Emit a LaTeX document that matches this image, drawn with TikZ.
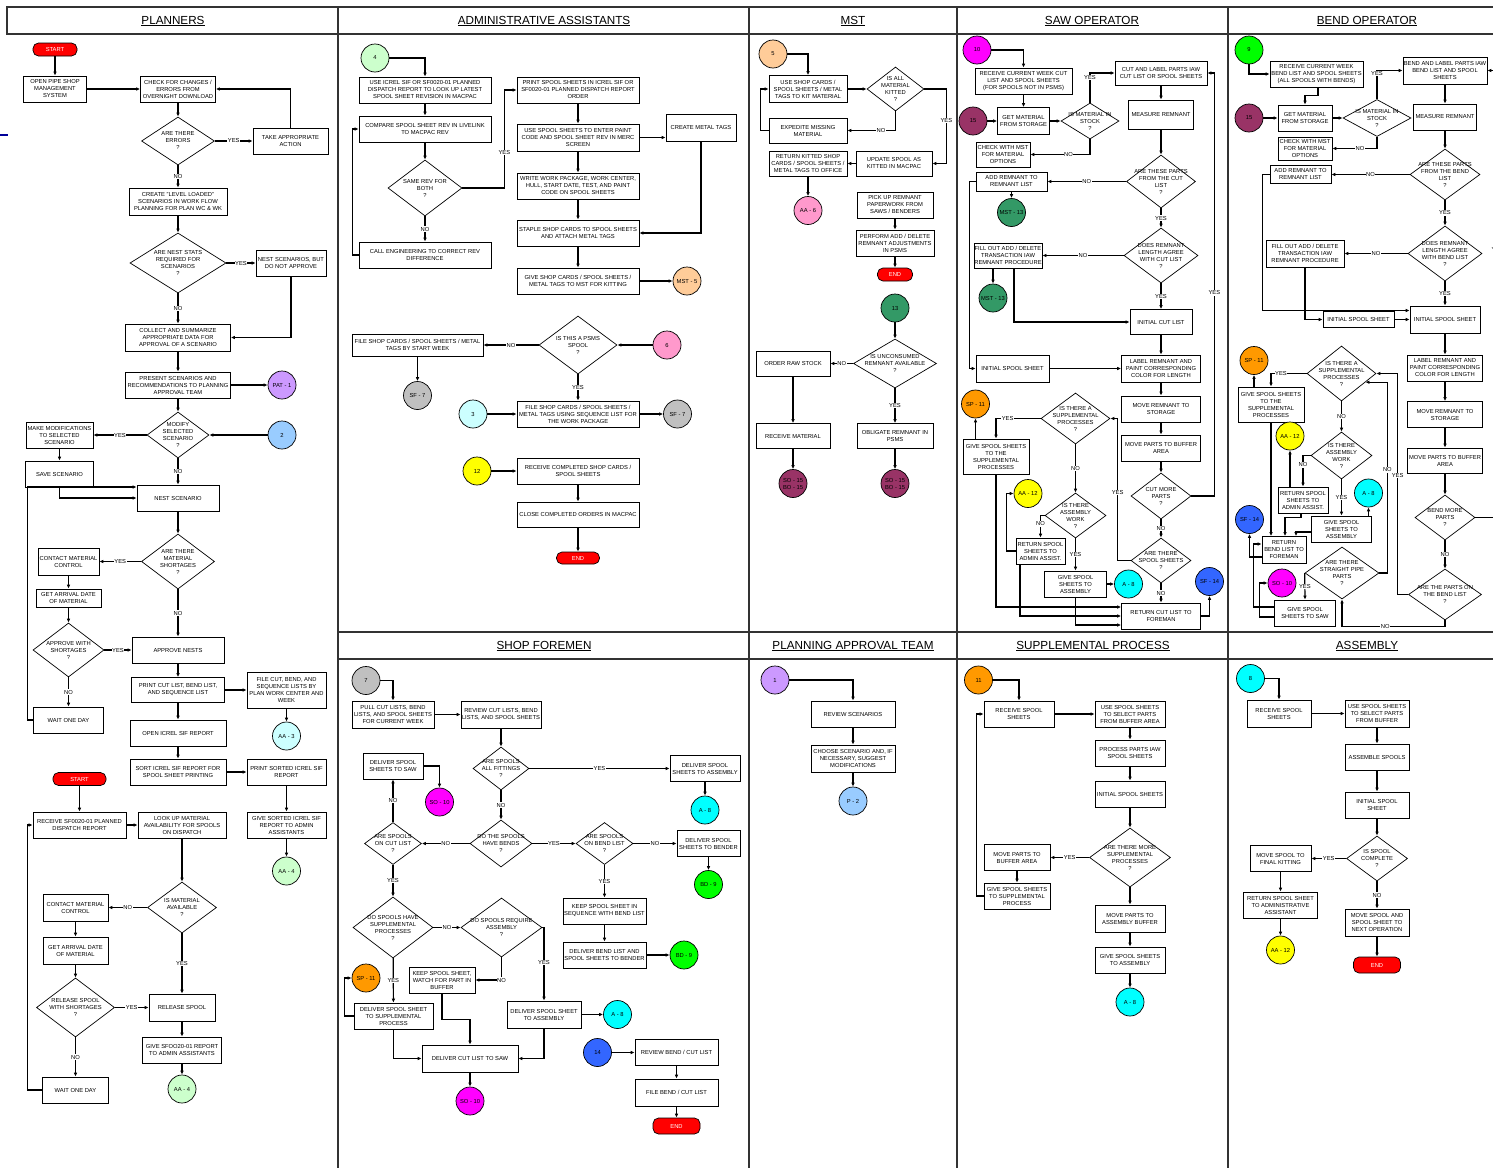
\documentclass[tikz,border=0pt]{standalone}
\usepackage{fontspec}
\setmainfont{Liberation Sans}
\usetikzlibrary{shapes.geometric,arrows.meta,shadows}

\definecolor{tred}{RGB}{255,0,0}
\definecolor{cpat}{RGB}{204,153,255}
\definecolor{cplan}{RGB}{153,204,255}
\definecolor{caa3}{RGB}{204,255,255}
\definecolor{caa4}{RGB}{204,255,204}
\definecolor{cmst}{RGB}{255,204,153}
\definecolor{caa6}{RGB}{255,153,204}
\definecolor{csf}{RGB}{192,192,192}
\definecolor{casm}{RGB}{0,255,255}
\definecolor{cbd}{RGB}{0,255,0}
\definecolor{cso}{RGB}{255,0,255}
\definecolor{csp}{RGB}{255,153,0}
\definecolor{caa12}{RGB}{255,255,0}
\definecolor{cm13}{RGB}{51,153,102}
\definecolor{csf14}{RGB}{51,102,255}
\definecolor{c15}{RGB}{153,51,102}

\newcommand\flowfont{\fontsize{5.8}{7}\selectfont}
\newcommand\lanefont{\fontsize{11.7}{14}\selectfont}

\tikzset{
  lane/.style={draw=black!80, line width=1.3pt},
  proc/.style={draw, fill=white, line width=0.7pt, inner sep=0.4pt, align=center, font=\flowfont,
    drop shadow={shadow xshift=0.9pt, shadow yshift=-0.9pt, fill=black!45, opacity=1}},
  bx/.style 2 args={proc, minimum width=#1pt, minimum height=#2pt},
  dtext/.style={align=center, font=\flowfont, inner sep=0pt},
  dec/.style n args={3}{diamond, draw, fill=white, line width=0.7pt, inner sep=0pt,
    minimum width=#1pt, minimum height=#2pt, label={[dtext]center:#3}},
  term/.style 2 args={draw, fill=tred, line width=0.7pt, rounded corners=5.5pt, inner sep=0pt,
    minimum width=#1pt, minimum height=#2pt, font=\flowfont, text=white},
  con/.style={circle, draw, line width=0.7pt, fill=#1, minimum size=28pt, inner sep=0pt,
    align=center, font=\flowfont},
  flow/.style={-{Latex[length=4pt,width=3.6pt]}, line width=1.2pt},
  lbl/.style={fill=white, inner sep=0.6pt, font=\flowfont}
}

\begin{document}
\begin{tikzpicture}[x=1pt,y=1pt,yscale=-1]
\useasboundingbox (0,0) rectangle (1493,1167);
\clip (0,0) rectangle (1493,1167);

% lanes
\draw[lane] (7,7) rectangle (1510,34);
\draw[lane] (338,7) -- (338,1180);
\draw[lane] (749,7) -- (749,1180);
\draw[lane] (957,7) -- (957,1180);
\draw[lane] (1228,7) -- (1228,1180);
\draw[lane] (338,632) rectangle (1510,659);
\draw[blue!60!black, line width=1.5pt] (0,135) -- (8,135);

\node[font=\lanefont] (hPlan) at (173,21) {\underline{PLANNERS}};
\node[font=\lanefont] (hAdmin) at (544,21) {\underline{ADMINISTRATIVE ASSISTANTS}};
\node[font=\lanefont] (hMst) at (853,21) {\underline{MST}};
\node[font=\lanefont] (hSaw) at (1092,21) {\underline{SAW OPERATOR}};
\node[font=\lanefont] (hBend) at (1367,21) {\underline{BEND OPERATOR}};
\node[font=\lanefont] (hShop) at (544,646) {\underline{SHOP FOREMEN}};
\node[font=\lanefont] (hPat) at (853,646) {\underline{PLANNING APPROVAL TEAM}};
\node[font=\lanefont] (hSup) at (1093,646) {\underline{SUPPLEMENTAL PROCESS}};
\node[font=\lanefont] (hAsm) at (1367,646) {\underline{ASSEMBLY}};

% Planners
\node[term={44}{13}] (plStart) at (55,49.5) {START};
\node[bx={63}{26}] (plOpen) at (55,89) {OPEN PIPE SHOP\\MANAGEMENT\\SYSTEM};
\node[bx={75}{26}] (plCheck) at (178,89) {CHECK FOR CHANGES /\\ERRORS FROM\\OVERNIGHT DOWNLOAD};
\node[dec={73}{48}{ARE THERE\\ERRORS\\?}] (plErr) at (178,141) {};
\node[bx={75}{26}] (plTake) at (290.5,141) {TAKE APPROPRIATE\\ACTION};
\node[bx={98}{27}] (plLevel) at (178,201.5) {CREATE "LEVEL LOADED"\\SCENARIOS IN WORK FLOW\\PLANNING FOR PLAN WC \& WK};
\node[dec={96}{60}{ARE NEST STATS\\REQUIRED FOR\\SCENARIOS\\?}] (plStats) at (178,263) {};
\node[bx={70}{26}] (plNestNa) at (291,263) {NEST SCENARIOS, BUT\\DO NOT APPROVE};
\node[bx={105}{27}] (plCollect) at (178,337.5) {COLLECT AND SUMMARIZE\\APPROPRIATE DATA FOR\\APPROVAL OF A SCENARIO};
\node[bx={105}{26}] (plPresent) at (178,385) {PRESENT SCENARIOS AND\\RECOMMENDATIONS TO PLANNING\\APPROVAL TEAM};
\node[con=cpat] (plPat) at (282,385) {PAT - 1};
\node[dec={62}{46}{MODIFY\\SELECTED\\SCENARIO\\?}] (plModify) at (178,435) {};
\node[con=cplan] (plTwo) at (282,435) {2};
\node[bx={67}{26}] (plMake) at (59.5,435) {MAKE MODIFICATIONS\\TO SELECTED\\SCENARIO};
\node[bx={68}{26}] (plSave) at (59.5,474) {SAVE SCENARIO};
\node[bx={82}{26}] (plNestSc) at (178,498) {NEST SCENARIO};
\node[dec={73}{55}{ARE THERE\\MATERIAL\\SHORTAGES\\?}] (plShort) at (178,561.5) {};
\node[bx={61}{27}] (plContact) at (68.5,561.5) {CONTACT MATERIAL\\CONTROL};
\node[bx={65}{18}] (plArrive) at (68.5,598) {GET ARRIVAL DATE\\OF MATERIAL};
\node[dec={71}{54}{APPROVE WITH\\SHORTAGES\\?}] (plAppr) at (68.5,650) {};
\node[bx={92}{26}] (plApprove) at (178,650) {APPROVE NESTS};
\node[bx={70}{26}] (plWait) at (68.5,720) {WAIT ONE DAY};
\node[bx={93}{25}] (plPrint) at (178,690) {PRINT CUT LIST, BEND LIST,\\AND SEQUENCE LIST};
\node[bx={79}{36}] (plFile) at (286.5,690) {FILE CUT, BEND, AND\\SEQUENCE LISTS BY\\PLAN WORK CENTER AND\\WEEK};
\node[con=caa3] (plAA3) at (286.5,736) {AA - 3};
\node[bx={96}{26}] (plOpenIc) at (178,733) {OPEN ICREL SIF REPORT};
\node[bx={96}{26}] (plSort) at (178,772) {SORT ICREL SIF REPORT FOR\\SPOOL SHEET PRINTING};
\node[bx={79}{26}] (plPrSort) at (286.5,772) {PRINT SORTED ICREL SIF\\REPORT};
\node[term={53}{13}] (plStart2) at (79.5,779) {START};
\node[bx={93}{26}] (plRecv) at (79.5,825) {RECEIVE SF0020-01 PLANNED\\DISPATCH REPORT};
\node[bx={88}{26}] (plLook) at (182,825) {LOOK UP MATERIAL\\AVAILABILITY FOR SPOOLS\\ON DISPATCH};
\node[bx={79}{26}] (plGive) at (286.5,825) {GIVE SORTED ICREL SIF\\REPORT TO ADMIN\\ASSISTANTS};
\node[con=caa4] (plAA4) at (286.5,871) {AA - 4};
\node[dec={69}{51}{IS MATERIAL\\AVAILABLE\\?}] (plAvail) at (182,907.5) {};
\node[bx={65}{27}] (plContact2) at (75.5,907.5) {CONTACT MATERIAL\\CONTROL};
\node[bx={65}{27}] (plArrive2) at (75.5,950.5) {GET ARRIVAL DATE\\OF MATERIAL};
\node[dec={78}{59}{RELEASE SPOOL\\WITH SHORTAGES\\?}] (plRel) at (75.5,1007.5) {};
\node[bx={66}{27}] (plRelease) at (182,1007.5) {RELEASE SPOOL};
\node[bx={79}{26}] (plGive2) at (182,1050) {GIVE SFOO20-01 REPORT\\TO ADMIN ASSISTANTS};
\node[con=caa4] (plAA4b) at (182,1089) {AA - 4};
\node[bx={66}{26}] (plWait2) at (75.5,1090) {WAIT ONE DAY};

\draw[flow] (plStart) -- (plOpen);
\draw[flow] (plOpen) -- (plCheck);
\draw[flow] (plCheck) -- (plErr);
\draw[flow] (plErr) -- node[lbl]{YES} (plTake);
\draw[flow] (plTake.north) |- (plCheck.east);
\draw[flow] (plErr) -- node[lbl]{NO} (plLevel);
\draw[flow] (plLevel) -- (plStats);
\draw[flow] (plStats) -- node[lbl]{YES} (plNestNa);
\draw[flow] (plNestNa.south) |- (plCollect.east);
\draw[flow] (plStats) -- node[lbl]{NO} (plCollect);
\draw[flow] (plCollect) -- (plPresent);
\draw[flow] (plPresent) -- (plPat);
\draw[flow] (plPresent) -- (plModify);
\draw[flow] (plTwo) -- (plModify);
\draw[flow] (plModify) -- node[lbl]{YES} (plMake);
\draw[flow] (plMake) -- (plSave);
\draw[flow] (plModify) -- node[lbl]{NO} (plNestSc);
\draw[flow] (plSave.south) |- (plNestSc.west);
\draw[flow] (plNestSc) -- (plShort);
\draw[flow] (plShort) -- node[lbl]{YES} (plContact);
\draw[flow] (plContact) -- (plArrive);
\draw[flow] (plArrive) -- (plAppr);
\draw[flow] (plAppr) -- node[lbl]{YES} (plApprove);
\draw[flow] (plShort) -- node[lbl]{NO} (plApprove);
\draw[flow] (plAppr) -- node[lbl]{NO} (plWait);
\draw[flow] (plWait.west) -- ++(-6,0) |- ([yshift=-11pt]plNestSc.west);
\draw[flow] (plApprove) -- (plPrint);
\draw[flow] (plPrint) -- (plFile);
\draw[flow] (plFile) -- (plAA3);
\draw[flow] (plPrint) -- (plOpenIc);
\draw[flow] (plOpenIc) -- (plSort);
\draw[flow] (plSort) -- (plPrSort);
\draw[flow] (plPrSort) -- (plGive);
\draw[flow] (plGive) -- (plAA4);
\draw[flow] (plStart2) -- (plRecv);
\draw[flow] (plRecv) -- (plLook);
\draw[flow] (plLook) -- (plAvail);
\draw[flow] (plAvail) -- node[lbl]{NO} (plContact2);
\draw[flow] (plContact2) -- (plArrive2);
\draw[flow] (plArrive2) -- (plRel);
\draw[flow] (plRel) -- node[lbl]{YES} (plRelease);
\draw[flow] (plAvail) -- node[lbl]{YES} (plRelease);
\draw[flow] (plRelease) -- (plGive2);
\draw[flow] (plGive2) -- (plAA4b);
\draw[flow] (plRel) -- node[lbl]{NO} (plWait2);
\draw[flow] (plWait2.west) -- ++(-15,0) |- (plRecv.west);

% Administrative assistants
\node[con=caa4] (adFour) at (375,58) {4};
\node[bx={132}{26}] (adUse) at (425,90) {USE ICREL SIF OR SF0020-01 PLANNED\\DISPATCH REPORT TO LOOK UP LATEST\\SPOOL SHEET REVISION IN MACPAC};
\node[bx={132}{26}] (adComp) at (425,129) {COMPARE SPOOL SHEET REV IN LIVELINK\\TO MACPAC REV};
\node[dec={74}{56}{SAME REV FOR\\BOTH\\?}] (adSame) at (425,188) {};
\node[bx={132}{26}] (adCall) at (425,255) {CALL ENGINEERING TO CORRECT REV\\DIFFERENCE};
\node[bx={122}{26}] (adPrint) at (578,90) {PRINT SPOOL SHEETS IN ICREL SIF OR\\SF0020-01 PLANNED DISPATCH REPORT\\ORDER};
\node[bx={122}{27}] (adEnter) at (578,137.5) {USE SPOOL SHEETS TO ENTER PAINT\\CODE AND SPOOL SHEET REV IN MERC\\SCREEN};
\node[bx={70}{27}] (adCreate) at (701,127.5) {CREATE METAL TAGS};
\node[bx={122}{26}] (adWrite) at (578,186) {WRITE WORK PACKAGE, WORK CENTER,\\HULL, START DATE, TEST, AND PAINT\\CODE ON SPOOL SHEETS};
\node[bx={122}{26}] (adStaple) at (578,233) {STAPLE SHOP CARDS TO SPOOL SHEETS\\AND ATTACH METAL TAGS};
\node[bx={122}{26}] (adGive) at (578,281) {GIVE SHOP CARDS / SPOOL SHEETS /\\METAL TAGS TO MST FOR KITTING};
\node[con=cmst] (adMst5) at (687,281) {MST - 5};
\node[dec={78}{58}{IS THIS A PSMS\\SPOOL\\?}] (adPsms) at (578,345) {};
\node[con=caa6] (adSix) at (667,345) {6};
\node[bx={131}{22}] (adFileWk) at (417.5,345) {FILE SHOP CARDS / SPOOL SHEETS / METAL\\TAGS BY START WEEK};
\node[con=csf] (adSf7) at (417.5,395.5) {SF - 7};
\node[bx={122}{26}] (adFileSeq) at (578,414) {FILE SHOP CARDS / SPOOL SHEETS /\\METAL TAGS USING SEQUENCE LIST FOR\\THE WORK PACKAGE};
\node[con=caa3] (adThree) at (473,414) {3};
\node[con=csf] (adSf7b) at (677.5,414) {SF - 7};
\node[con=caa12] (adTwelve) at (477,471) {12};
\node[bx={122}{26}] (adRecv) at (578,471) {RECEIVE COMPLETED SHOP CARDS /\\SPOOL SHEETS};
\node[bx={122}{25}] (adClose) at (578,514.5) {CLOSE COMPLETED ORDERS IN MACPAC};
\node[term={43}{12}] (adEnd) at (578,558) {END};

\draw[flow] (adFour.east) -| (adUse.north);
\draw[flow] (adUse) -- (adComp);
\draw[flow] (adComp) -- (adSame);
\draw[flow] (adSame) -- node[lbl]{NO} (adCall);
\draw[flow] (adCall.west) -- ++(-6,0) |- (adComp.west);
\draw[flow] (adSame.east) -- ++(42,0) |- node[lbl,pos=0.18]{YES} (adPrint.west);
\draw[flow] (adPrint) -- (adEnter);
\draw[flow] (adEnter.east) -- (adEnter.east -| adCreate.west);
\draw[flow] (adEnter) -- (adWrite);
\draw[flow] (adWrite) -- (adStaple);
\draw[flow] (adCreate.south) |- (adStaple.east);
\draw[flow] (adStaple) -- (adGive);
\draw[flow] (adGive) -- (adMst5);
\draw[flow] (adSix) -- (adPsms);
\draw[flow] (adPsms) -- node[lbl]{NO} (adFileWk);
\draw[flow] (adFileWk) -- (adSf7);
\draw[flow] (adPsms) -- node[lbl]{YES} (adFileSeq);
\draw[flow] (adThree) -- (adFileSeq);
\draw[flow] (adFileSeq) -- (adSf7b);
\draw[flow] (adTwelve) -- (adRecv);
\draw[flow] (adRecv) -- (adClose);
\draw[flow] (adClose) -- (adEnd);

% MST
\node[con=cmst] (msFive) at (773,54) {5};
\node[bx={78}{27}] (msUse) at (808,89) {USE SHOP CARDS /\\SPOOL SHEETS / METAL\\TAGS TO KIT MATERIAL};
\node[dec={57}{44}{IS ALL\\MATERIAL\\KITTED\\?}] (msKit) at (895.5,89) {};
\node[bx={78}{25}] (msExp) at (808,130.5) {EXPEDITE MISSING\\MATERIAL};
\node[bx={78}{25}] (msRet) at (808,163.5) {RETURN KITTED SHOP\\CARDS / SPOOL SHEETS /\\METAL TAGS TO OFFICE};
\node[bx={76}{25}] (msUpd) at (894,163.5) {UPDATE SPOOL AS\\KITTED IN MACPAC};
\node[con=caa6] (msAA6) at (808,210.5) {AA - 6};
\node[bx={76}{26}] (msPick) at (895,205) {PICK UP REMNANT\\PAPERWORK FROM\\SAWS / BENDERS};
\node[bx={78}{26}] (msPerf) at (895,243) {PERFORM ADD / DELETE\\REMNANT ADJUSTMENTS\\IN PSMS};
\node[term={35}{13}] (msEnd) at (895,274.5) {END};
\node[con=cm13] (msThirteen) at (895,308) {13};
\node[dec={83}{49}{IS UNCONSUMED\\REMNANT AVAILABLE\\?}] (msUnc) at (895,363.5) {};
\node[bx={74}{25}] (msOrder) at (793,363.5) {ORDER RAW STOCK};
\node[bx={74}{25}] (msRecv) at (793,436) {RECEIVE MATERIAL};
\node[bx={76}{25}] (msObl) at (895,436) {OBLIGATE REMNANT IN\\PSMS};
\node[con=c15] (msSo15a) at (793,483.5) {SO - 15\\BO - 15};
\node[con=c15] (msSo15b) at (895,483.5) {SO - 15\\BO - 15};

\draw[flow] (msFive.east) -| (msUse.north);
\draw[flow] (msUse) -- (msKit);
\draw[flow] (msKit.south) |- node[lbl,pos=0.65]{NO} (msExp.east);
\draw[flow] (msExp.west) -- ++(-8,0) |- (msUse.west);
\draw[flow] (msKit.east) -- ++(22,0) |- node[lbl,pos=0.21]{YES} (msUpd.east);
\draw[flow] (msUpd) -- (msRet);
\draw[flow] (msRet) -- (msAA6);
\draw[flow] (msPick) -- (msPerf);
\draw[flow] (msPerf) -- (msEnd);
\draw[flow] (msThirteen) -- (msUnc);
\draw[flow] (msUnc) -- node[lbl]{NO} (msOrder);
\draw[flow] (msOrder) -- (msRecv);
\draw[flow] (msRecv) -- (msSo15a);
\draw[flow] (msUnc) -- node[lbl]{YES} (msObl);
\draw[flow] (msObl) -- (msSo15b);

% Saw operator
\node[con=cso] (swTen) at (977,50) {10};
\node[bx={97}{26}] (swRecv) at (1023.5,81) {RECEIVE CURRENT WEEK CUT\\LIST AND SPOOL SHEETS\\(FOR SPOOLS NOT IN PSMS)};
\node[con=c15] (swFifteen) at (973,121) {15};
\node[bx={52}{27}] (swGet) at (1023.5,121) {GET MATERIAL\\FROM STORAGE};
\node[dec={58}{36}{IS MATERIAL IN\\STOCK\\?}] (swStock) at (1090,121) {};
\node[bx={92}{24}] (swCut) at (1161,73) {CUT AND LABEL PARTS IAW\\CUT LIST OR SPOOL SHEETS};
\node[bx={65}{29}] (swMeas) at (1161,114.5) {MEASURE REMNANT};
\node[bx={54}{25}] (swChk) at (1003,154.5) {CHECK WITH MST\\FOR MATERIAL\\OPTIONS};
\node[dec={69}{53}{ARE THESE PARTS\\FROM THE CUT\\LIST\\?}] (swParts) at (1161,181.5) {};
\node[bx={71}{19}] (swAdd) at (1011.5,181.5) {ADD REMNANT TO\\REMNANT LIST};
\node[con=cm13] (swM13a) at (1011.5,212.5) {MST - 13};
\node[dec={74}{55}{DOES REMNANT\\LENGTH AGREE\\WITH CUT LIST\\?}] (swAgree) at (1161,255.5) {};
\node[bx={64}{25}] (swFill) at (1008,255.5) {FILL OUT ADD / DELETE\\TRANSACTION IAW\\REMNANT PROCEDURE};
\node[con=cm13] (swM13b) at (993,298) {MST - 13};
\node[bx={62}{25}] (swInitCut) at (1161,322) {INITIAL CUT LIST};
\node[bx={73}{27}] (swInitSp) at (1012.5,368.5) {INITIAL SPOOL SHEET};
\node[bx={79}{27}] (swLabel) at (1161,368.5) {LABEL REMNANT AND\\PAINT CORRESPONDING\\COLOR FOR LENGTH};
\node[bx={79}{26}] (swMoveRem) at (1161,409) {MOVE REMNANT TO\\STORAGE};
\node[bx={79}{26}] (swMoveBuf) at (1161,448) {MOVE PARTS TO BUFFER\\AREA};
\node[dec={60}{46}{CUT MORE\\PARTS\\?}] (swMore) at (1161,496) {};
\node[dec={60}{45}{ARE THERE\\SPOOL SHEETS\\?}] (swSheets) at (1161,560.5) {};
\node[bx={79}{26}] (swRetCut) at (1161,616) {RETURN CUT LIST TO\\FOREMAN};
\node[con=csf14] (swSf14) at (1209.5,581.5) {SF - 14};
\node[dec={69}{51}{IS THERE A\\SUPPLEMENTAL\\PROCESSES\\?}] (swSup) at (1075.5,418.5) {};
\node[con=csp] (swSp11) at (975.5,404) {SP - 11};
\node[bx={66}{35}] (swGiveSup) at (996,456.5) {GIVE SPOOL SHEETS\\TO THE\\SUPPLEMENTAL\\PROCESSES};
\node[dec={61}{45}{IS THERE\\ASSEMBLY\\WORK\\?}] (swAsm) at (1075.5,515.5) {};
\node[con=caa12] (swAA12) at (1028,493.5) {AA - 12};
\node[bx={49}{26}] (swRetSp) at (1040.5,551) {RETURN SPOOL\\SHEETS TO\\ADMIN ASSIST.};
\node[bx={62}{26}] (swGiveAsm) at (1075.5,584) {GIVE SPOOL\\SHEETS TO\\ASSEMBLY};
\node[con=casm] (swA8) at (1128.5,584) {A - 8};

\draw[flow] (swTen.east) -| (swRecv.north);
\draw[flow] (swRecv) -- (swGet);
\draw[flow] (swFifteen) -- (swGet);
\draw[flow] (swGet) -- (swStock);
\draw[flow] (swStock.north) |- node[lbl,pos=0.42]{YES} (swCut.west);
\draw[flow] (swStock.south) |- node[lbl,pos=0.68]{NO} (swChk.east);
\draw[flow] (swCut) -- (swMeas);
\draw[flow] (swMeas) -- (swParts);
\draw[flow] (swParts) -- node[lbl]{NO} (swAdd);
\draw[flow] (swAdd) -- (swM13a);
\draw[flow] (swParts) -- node[lbl]{YES} (swAgree);
\draw[flow] (swAgree) -- node[lbl]{NO} (swFill);
\draw[flow] (swFill.south -| swM13b) -- (swM13b);
\draw[flow] ([xshift=6pt]swFill.south) |- (swInitCut.west);
\draw[flow] (swAgree) -- node[lbl]{YES} (swInitCut);
\draw[flow] (swAdd.west) -- ++(-6,0) |- (swInitSp.west);
\draw[flow] (swInitSp) -- (swLabel);
\draw[flow] (swInitCut) -- (swLabel);
\draw[flow] (swLabel) -- (swMoveRem);
\draw[flow] (swMoveRem) -- (swMoveBuf);
\draw[flow] (swMoveBuf) -- (swMore);
\draw[flow] (swMore.east) -- ++(23,0) |- node[lbl,pos=0.24]{YES} (swCut.east);
\draw[flow] (swMore) -- node[lbl]{NO} (swSheets);
\draw[flow] (swSheets.west) -- ++(-13,0) |- node[lbl,pos=0.24]{YES} (swSup.east);
\draw[flow] (swSheets) -- node[lbl]{NO} (swRetCut);
\draw[flow] (swRetCut.east) -| (swSf14.south);
\draw[flow] (swSup.west) -| node[lbl,pos=0.37]{YES} (swGiveSup.north);
\draw[flow] (swGiveSup.north -| swSp11) -- (swSp11);
\draw[flow] (swSup) -- node[lbl]{NO} (swAsm);
\draw[flow] (swAsm.west) -| node[lbl,pos=0.69]{NO} (swRetSp.north);
\draw[flow] (swRetSp.west) -- ++(-9,0) |- (swAA12.west);
\draw[flow] (swAsm) -- node[lbl]{YES} (swGiveAsm);
\draw[flow] (swGiveAsm) -- (swA8);
\draw[flow] (swGiveAsm.south) |- ([yshift=9pt]swRetCut.west);
\draw[flow] ([xshift=-20.5pt]swRetSp.south) |- (swRetCut.west);
\draw[flow] (swGiveSup.south) |- ([yshift=-9pt]swRetCut.west);

% Bend operator
\node[con=cbd] (bdNine) at (1249,50) {9};
\node[bx={93}{26}] (bdRecv) at (1316.5,74) {RECEIVE CURRENT WEEK\\BEND LIST AND SPOOL SHEETS\\(ALL SPOOLS WITH BENDS)};
\node[con=c15] (bdFifteen) at (1249,118) {15};
\node[bx={54}{26}] (bdGet) at (1305,118) {GET MATERIAL\\FROM STORAGE};
\node[dec={68}{37}{IS MATERIAL IN\\STOCK\\?}] (bdStock) at (1377,118) {};
\node[bx={84}{27}] (bdBend) at (1445,70.5) {BEND AND LABEL PARTS IAW\\BEND LIST AND SPOOL\\SHEETS};
\node[bx={63}{26}] (bdMeas) at (1445,117) {MEASURE REMNANT};
\node[bx={54}{23}] (bdChk) at (1305,148.5) {CHECK WITH MST\\FOR MATERIAL\\OPTIONS};
\node[dec={70}{51}{ARE THESE PARTS\\FROM THE BEND\\LIST\\?}] (bdParts) at (1445,174.5) {};
\node[bx={61}{18}] (bdAdd) at (1300.5,174.5) {ADD REMNANT TO\\REMNANT LIST};
\node[dec={74}{55}{DOES REMNANT\\LENGTH AGREE\\WITH BEND LIST\\?}] (bdAgree) at (1445,253.5) {};
\node[bx={78}{27}] (bdFill) at (1305,253.5) {FILL OUT ADD / DELETE\\TRANSACTION IAW\\REMNANT PROCEDURE};
\node[bx={71}{16}] (bdInitS) at (1358.5,319.5) {INITIAL SPOOL SHEET};
\node[bx={70}{27}] (bdInitR) at (1445,319.5) {INITIAL SPOOL SHEET};
\node[bx={75}{26}] (bdLabel) at (1445,368) {LABEL REMNANT AND\\PAINT CORRESPONDING\\COLOR FOR LENGTH};
\node[bx={75}{26}] (bdMoveRem) at (1445,414.5) {MOVE REMNANT TO\\STORAGE};
\node[bx={75}{25}] (bdMoveBuf) at (1445,460.5) {MOVE PARTS TO BUFFER\\AREA};
\node[dec={60}{45}{BEND MORE\\PARTS\\?}] (bdMore) at (1445,517.5) {};
\node[dec={73}{51}{ARE THE PARTS ON\\THE BEND LIST\\?}] (bdOn) at (1445,594.5) {};
\node[dec={74}{52}{ARE THERE\\STRAIGHT PIPE\\PARTS\\?}] (bdStr) at (1342,573) {};
\node[bx={61}{26}] (bdGiveSaw) at (1305,613) {GIVE SPOOL\\SHEETS TO SAW};
\node[con=cso] (bdSo10) at (1282,583) {SO - 10};
\node[bx={44}{27}] (bdRetB) at (1284,550) {RETURN\\BEND LIST TO\\FOREMAN};
\node[con=csf14] (bdSf14) at (1249.5,519.5) {SF - 14};
\node[dec={69}{55}{IS THERE A\\SUPPLEMENTAL\\PROCESSES\\?}] (bdSup) at (1341.5,373.5) {};
\node[con=csp] (bdSp11) at (1254,360.5) {SP - 11};
\node[bx={66}{35}] (bdGiveSup) at (1271,404.5) {GIVE SPOOL SHEETS\\TO THE\\SUPPLEMENTAL\\PROCESSES};
\node[dec={61}{47}{IS THERE\\ASSEMBLY\\WORK\\?}] (bdAsm) at (1341.5,455.5) {};
\node[con=caa12] (bdAA12) at (1290,436) {AA - 12};
\node[bx={50}{26}] (bdRetSp) at (1303,500) {RETURN SPOOL\\SHEETS TO\\ADMIN ASSIST.};
\node[bx={60}{26}] (bdGiveAsm) at (1341.5,529) {GIVE SPOOL\\SHEETS TO\\ASSEMBLY};
\node[con=casm] (bdA8) at (1368.5,493) {A - 8};

\draw[flow] (bdNine.south) |- (bdRecv.west);
\draw[flow] ([xshift=1.5pt]bdRecv.south) -- ++(0,8) -| (bdGet.north);
\draw[flow] (bdFifteen) -- (bdGet);
\draw[flow] (bdGet) -- (bdStock);
\draw[flow] (bdStock.north) |- node[lbl,pos=0.45]{YES} (bdBend.west);
\draw[flow] (bdStock.south) |- node[lbl,pos=0.69]{NO} (bdChk.east);
\draw[flow] (bdBend) -- (bdMeas);
\draw[flow] (bdMeas) -- (bdParts);
\draw[flow] (bdParts) -- node[lbl]{NO} (bdAdd);
\draw[flow] (bdAdd.west) -- ++(-7,0) |- ([yshift=-9pt]bdInitR.west);
\draw[flow] (bdParts) -- node[lbl]{YES} (bdAgree);
\draw[flow] (bdAgree) -- node[lbl]{NO} (bdFill);
\draw[flow] (bdFill.south) |- (bdInitS.west);
\draw[flow] (bdInitS) -- (bdInitR);
\draw[flow] (bdAgree) -- node[lbl]{YES} (bdInitR);
\draw[flow] (bdInitR) -- (bdLabel);
\draw[flow] (bdLabel) -- (bdMoveRem);
\draw[flow] (bdMoveRem) -- (bdMoveBuf);
\draw[flow] (bdMoveBuf) -- (bdMore);
\draw[flow] (bdMore.east) -- ++(22,0) |- node[lbl,pos=0.3]{YES} (bdBend.east);
\draw[flow] (bdMore) -- node[lbl]{NO} (bdOn);
\draw[flow] (bdOn.south) -- ++(0,6) -| node[lbl,pos=0.29]{NO} (bdStr.south);
\draw[flow] (bdOn.west) -- ++(-10.5,0) |- node[lbl,pos=0.27]{YES} (bdSup.east);
\draw[flow] (bdStr.east) -- ++(8,0) |- node[lbl,pos=0.27]{NO} (bdSup.-20);
\draw[flow] (bdStr.west) -- node[lbl]{YES} (bdGiveSaw.north);
\draw[flow] ([yshift=4pt]bdGiveSaw.west) -- ++(-15,0) |- (bdSo10.west);
\draw[flow] ([yshift=-6pt]bdGiveSaw.west) -- ++(-21,0) |- ([yshift=-6pt]bdRetB.west);
\draw[flow] ([yshift=7pt]bdRetB.west) -| (bdSf14.south);
\draw[flow] (bdSup.west) -| node[lbl,pos=0.36]{YES} (bdGiveSup.north);
\draw[flow] (bdGiveSup.north -| bdSp11) -- (bdSp11);
\draw[flow] (bdSup) -- node[lbl]{NO} (bdAsm);
\draw[flow] (bdAsm.west) -| node[lbl,pos=0.65]{NO} (bdRetSp.north);
\draw[flow] (bdRetSp.north -| bdAA12) -- (bdAA12);
\draw[flow] (bdAsm) -- node[lbl]{YES} (bdGiveAsm);
\draw[flow] (bdGiveAsm.north -| bdA8) -- (bdA8);
\draw[flow] (bdGiveSup.south) -- (bdGiveSup.south |- bdRetB.north);
\draw[flow] ([xshift=-2pt]bdRetSp.south) -- ++(0,4) -| ([xshift=1pt]bdRetB.north);
\draw[flow] ([yshift=3pt]bdGiveAsm.west) -| ([xshift=12pt]bdRetB.north);

% Shop foremen
\node[con=csf] (sfSeven) at (366,680.5) {7};
\node[bx={82}{27}] (sfPull) at (393,714.5) {PULL CUT LISTS, BEND\\LISTS, AND SPOOL SHEETS\\FOR CURRENT WEEK};
\node[bx={80}{27}] (sfReview) at (501,714.5) {REVIEW CUT LISTS, BEND\\LISTS, AND SPOOL SHEETS};
\node[dec={56}{43}{ARE SPOOLS\\ALL FITTINGS\\?}] (sfFit) at (501,768.5) {};
\node[bx={70}{26}] (sfDelAsm) at (705,768.5) {DELIVER SPOOL\\SHEETS TO ASSEMBLY};
\node[con=casm] (sfA8) at (705,810) {A - 8};
\node[dec={62}{47}{DO THE SPOOLS\\HAVE BENDS\\?}] (sfBends) at (501,843.5) {};
\node[dec={57}{42}{ARE SPOOLS\\ON CUT LIST\\?}] (sfCut) at (393,843.5) {};
\node[bx={60}{26}] (sfDelSaw) at (393,766) {DELIVER SPOOL\\SHEETS TO SAW};
\node[con=cso] (sfSo10) at (439.5,802) {SO - 10};
\node[dec={57}{42}{ARE SPOOLS\\ON BEND LIST\\?}] (sfBendL) at (604.5,843.5) {};
\node[bx={63}{26}] (sfDelBen) at (708.5,843.5) {DELIVER SPOOL\\SHEETS TO BENDER};
\node[con=cbd] (sfBd9) at (708.5,884.5) {BD - 9};
\node[bx={83}{26}] (sfKeepSeq) at (604.5,911) {KEEP SPOOL SHEET IN\\SEQUENCE WITH BEND LIST};
\node[bx={83}{26}] (sfDelBL) at (604.5,955) {DELIVER BEND LIST AND\\SPOOL SHEETS TO BENDER};
\node[con=cbd] (sfBd9b) at (684,955) {BD - 9};
\node[dec={80}{61}{DO SPOOLS HAVE\\SUPPLEMENTAL\\PROCESSES\\?}] (sfSup) at (393,927.5) {};
\node[dec={81}{59}{DO SPOOLS REQUIRE\\ASSEMBLY\\?}] (sfReqA) at (501.5,927.5) {};
\node[bx={66}{26}] (sfKeepW) at (442,980) {KEEP SPOOL SHEET,\\WATCH FOR PART IN\\BUFFER};
\node[con=csp] (sfSp11) at (366,978) {SP - 11};
\node[bx={79}{26}] (sfDelSup) at (393.5,1016) {DELIVER SPOOL SHEET\\TO SUPPLEMENTAL\\PROCESS};
\node[bx={74}{27}] (sfDelSA) at (544,1014.5) {DELIVER SPOOL SHEET\\TO ASSEMBLY};
\node[con=casm] (sfA8b) at (617.5,1014.5) {A - 8};
\node[bx={96}{27}] (sfDelCut) at (470,1058.5) {DELIVER CUT LIST TO SAW};
\node[con=cso] (sfSo10b) at (470,1101) {SO - 10};
\node[con=csf14] (sfFourteen) at (597.5,1052.5) {14};
\node[bx={83}{26}] (sfRevBC) at (676.5,1052.5) {REVIEW BEND / CUT LIST};
\node[bx={83}{27}] (sfFileBC) at (676.5,1092.5) {FILE BEND / CUT LIST};
\node[term={47}{16}] (sfEnd) at (676.5,1126) {END};

\draw[flow] (sfSeven.east) -| (sfPull.north);
\draw[flow] (sfPull) -- (sfReview);
\draw[flow] (sfReview) -- (sfFit);
\draw[flow] (sfFit) -- node[lbl]{YES} (sfDelAsm);
\draw[flow] (sfDelAsm) -- (sfA8);
\draw[flow] (sfFit) -- node[lbl]{NO} (sfBends);
\draw[flow] (sfBends) -- node[lbl]{NO} (sfCut);
\draw[flow] (sfCut) -- node[lbl]{NO} (sfDelSaw);
\draw[flow] (sfDelSaw.east) -| (sfSo10.north);
\draw[flow] (sfBends) -- node[lbl]{YES} (sfBendL);
\draw[flow] (sfBendL) -- node[lbl]{NO} (sfDelBen);
\draw[flow] (sfDelBen) -- (sfBd9);
\draw[flow] (sfBendL) -- node[lbl]{YES} (sfKeepSeq);
\draw[flow] (sfKeepSeq) -- (sfDelBL);
\draw[flow] (sfDelBL) -- (sfBd9b);
\draw[flow] (sfCut) -- node[lbl]{YES} (sfSup);
\draw[flow] (sfSup) -- node[lbl]{NO} (sfReqA);
\draw[flow] (sfReqA.east) -| node[lbl,pos=0.74]{YES} (sfDelSA.north);
\draw[flow] (sfReqA.south) |- node[lbl,pos=0.5]{NO} (sfKeepW.east);
\draw[flow] (sfSup) -- node[lbl]{YES} (sfDelSup);
\draw[flow] (sfDelSup.west) -- ++(-9,0) |- (sfSp11.west);
\draw[flow] (sfDelSA) -- (sfA8b);
\draw[flow] (sfDelSup.south) |- (sfDelCut.west);
\draw[flow] (sfKeepW.south) -- ++(0,26) -| (sfDelCut.north);
\draw[flow] (sfDelSA.south) |- (sfDelCut.east);
\draw[flow] (sfDelCut) -- (sfSo10b);
\draw[flow] (sfFourteen) -- (sfRevBC);
\draw[flow] (sfRevBC) -- (sfFileBC);
\draw[flow] (sfFileBC) -- (sfEnd);

% Planning approval team
\node[con=cpat] (paOne) at (775,680) {1};
\node[bx={84}{26}] (paRev) at (853,714) {REVIEW SCENARIOS};
\node[bx={84}{27}] (paChoose) at (853,758.5) {CHOOSE SCENARIO AND, IF\\NECESSARY, SUGGEST\\MODIFICATIONS};
\node[con=cplan] (paP2) at (853,801) {P - 2};

\draw[flow] (paOne.east) -| (paRev.north);
\draw[flow] (paRev) -- (paChoose);
\draw[flow] (paChoose) -- (paP2);

% Supplemental process
\node[con=csp] (spEleven) at (978.5,680) {11};
\node[bx={70}{26}] (spRecv) at (1019,714) {RECEIVE SPOOL\\SHEETS};
\node[bx={70}{26}] (spUse) at (1130,714) {USE SPOOL SHEETS\\TO SELECT PARTS\\FROM BUFFER AREA};
\node[bx={70}{26}] (spProc) at (1130,753) {PROCESS PARTS IAW\\SPOOL SHEETS};
\node[bx={70}{26}] (spInit) at (1130,794) {INITIAL SPOOL SHEETS};
\node[dec={81}{59}{ARE THERE MORE\\SUPPLEMENTAL\\PROCESSES\\?}] (spMore) at (1130,857.5) {};
\node[bx={66}{26}] (spMoveBuf) at (1017,857.5) {MOVE PARTS TO\\BUFFER AREA};
\node[bx={66}{26}] (spGiveSup) at (1017,896) {GIVE SPOOL SHEETS\\TO SUPPLEMENTAL\\PROCESS};
\node[bx={70}{27}] (spMoveAsm) at (1130,918.5) {MOVE PARTS TO\\ASSEMBLY BUFFER};
\node[bx={70}{26}] (spGiveAsm) at (1130,960) {GIVE SPOOL SHEETS\\TO ASSEMBLY};
\node[con=casm] (spA8) at (1130,1002) {A - 8};

\draw[flow] (spEleven.east) -| (spRecv.north);
\draw[flow] (spRecv) -- (spUse);
\draw[flow] (spUse) -- (spProc);
\draw[flow] (spProc) -- (spInit);
\draw[flow] (spInit) -- (spMore);
\draw[flow] (spMore) -- node[lbl]{YES} (spMoveBuf);
\draw[flow] (spMoveBuf) -- (spGiveSup);
\draw[flow] (spGiveSup.west) -- ++(-7,0) |- (spRecv.west);
\draw[flow] (spMore) -- (spMoveAsm);
\draw[flow] (spMoveAsm) -- (spGiveAsm);
\draw[flow] (spGiveAsm) -- (spA8);

% Assembly
\node[con=casm] (asEight) at (1250.5,678.5) {8};
\node[bx={64}{27}] (asRecv) at (1279,713.5) {RECEIVE SPOOL\\SHEETS};
\node[bx={64}{27}] (asUse) at (1377,713.5) {USE SPOOL SHEETS\\TO SELECT PARTS\\FROM BUFFER};
\node[bx={64}{26}] (asAsm) at (1377,757) {ASSEMBLE SPOOLS};
\node[bx={64}{26}] (asInit) at (1377,805) {INITIAL SPOOL\\SHEET};
\node[dec={61}{45}{IS SPOOL\\COMPLETE\\?}] (asComp) at (1377,858.5) {};
\node[bx={61}{26}] (asFinal) at (1280.5,858.5) {MOVE SPOOL TO\\FINAL KITTING};
\node[bx={74}{26}] (asRetSh) at (1280.5,905) {RETURN SPOOL SHEET\\TO ADMINISTRATIVE\\ASSISTANT};
\node[con=caa12] (asAA12) at (1280.5,950) {AA - 12};
\node[bx={64}{27}] (asNext) at (1377,922.5) {MOVE SPOOL AND\\SPOOL SHEET TO\\NEXT OPERATION};
\node[term={47}{16}] (asEnd) at (1377,965) {END};

\draw[flow] (asEight.east) -| (asRecv.north);
\draw[flow] (asRecv) -- (asUse);
\draw[flow] (asUse) -- (asAsm);
\draw[flow] (asAsm) -- (asInit);
\draw[flow] (asInit) -- (asComp);
\draw[flow] (asComp) -- node[lbl]{YES} (asFinal);
\draw[flow] (asFinal) -- (asRetSh);
\draw[flow] (asRetSh) -- (asAA12);
\draw[flow] (asComp) -- node[lbl]{NO} (asNext);
\draw[flow] (asNext) -- (asEnd);

\end{tikzpicture}
\end{document}
